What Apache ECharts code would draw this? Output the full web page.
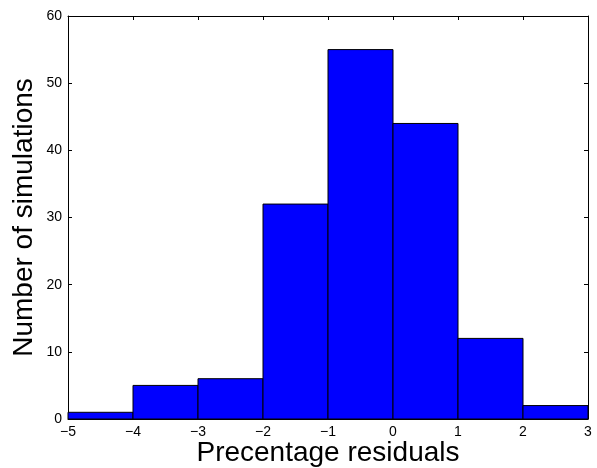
<!DOCTYPE html>
<html><head><meta charset="utf-8">
<script src="https://cdn.jsdelivr.net/npm/echarts@6/dist/echarts.min.js"></script>
<style>html,body{margin:0;padding:0;background:#fff}#c{width:597px;height:468px}</style>
</head><body><div id="c"></div>
<script>
var binEdges = [-5, -4, -3, -2, -1, 0, 1, 2, 3];
var counts = [1, 5, 6, 32, 55, 44, 12, 2];
var xLabel = 'Precentage residuals';
var yLabel = 'Number of simulations';

var data = counts.map(function (c, i) { return [binEdges[i], binEdges[i + 1], c]; });
var fmt = function (v) { return String(v).replace('-', '\u2212'); };
var font = 'Liberation Sans, Arial, sans-serif';
var tick = { show: true, inside: true, length: 4, lineStyle: { color: '#000', width: 1 } };
var line = { show: true, onZero: false, lineStyle: { color: '#000', width: 1 } };

var chart = echarts.init(document.getElementById('c'));
chart.setOption({
  animation: false,
  grid: { left: 68, right: 9, top: 16, bottom: 49, containLabel: false, outerBoundsMode: 'none' },
  xAxis: [{
    type: 'value', min: -5, max: 3, interval: 1,
    axisLine: line, axisTick: tick, splitLine: { show: false },
    axisLabel: { color: '#000', fontFamily: font, fontSize: 14, margin: 6, formatter: fmt },
    name: xLabel, nameLocation: 'middle', nameGap: 20, nameMoveOverlap: false,
    nameTextStyle: { color: '#000', fontFamily: font, fontSize: 28 }
  }, {
    type: 'value', position: 'top', min: -5, max: 3, interval: 1,
    axisLine: line, axisTick: tick, axisLabel: { show: false }, splitLine: { show: false }
  }],
  yAxis: [{
    type: 'value', min: 0, max: 60, interval: 10,
    axisLine: line, axisTick: tick, splitLine: { show: false },
    axisLabel: { color: '#000', fontFamily: font, fontSize: 14, margin: 6, formatter: fmt },
    name: yLabel, nameLocation: 'middle', nameGap: 30, nameMoveOverlap: false,
    nameTextStyle: { color: '#000', fontFamily: font, fontSize: 28 }
  }, {
    type: 'value', position: 'right', min: 0, max: 60, interval: 10,
    axisLine: line, axisTick: tick, axisLabel: { show: false }, splitLine: { show: false }
  }],
  series: [{
    type: 'custom',
    data: data,
    encode: { x: [0, 1], y: 2 },
    renderItem: function (params, api) {
      var p0 = api.coord([api.value(0), api.value(2)]);
      var p1 = api.coord([api.value(1), 0]);
      return {
        type: 'rect',
        shape: { x: p0[0], y: p0[1], width: p1[0] - p0[0], height: p1[1] - p0[1] },
        style: { fill: '#0000ff', stroke: '#000', lineWidth: 1 }
      };
    }
  }]
});
</script></body></html>
